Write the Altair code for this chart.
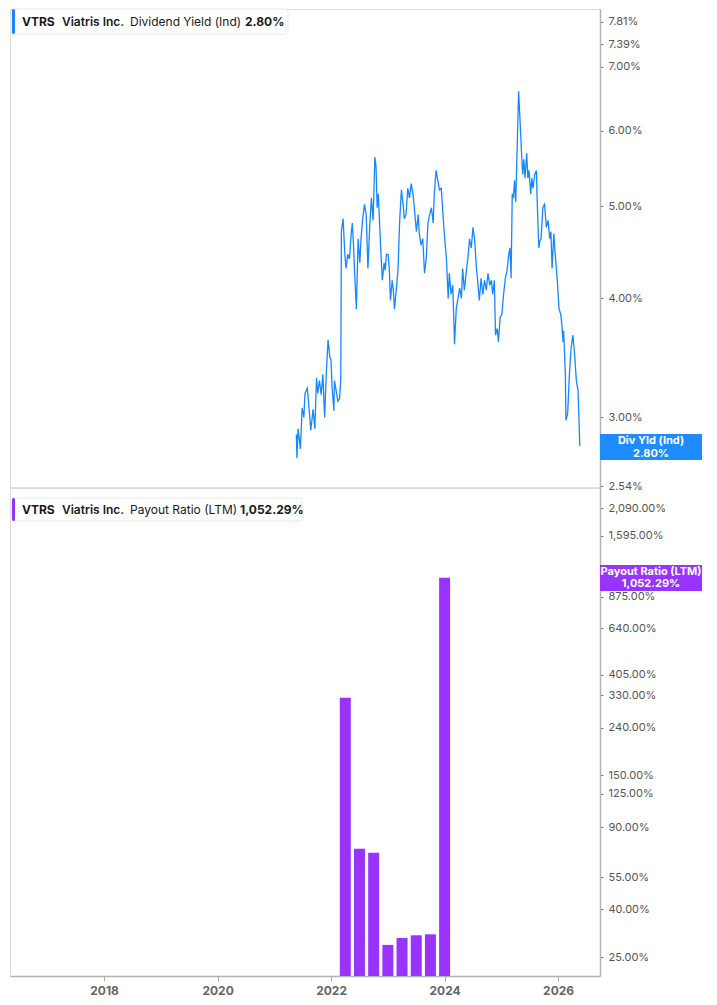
import altair as alt
import pandas as pd

# ---------------- data ----------------
dy_year = [2021.39, 2021.40, 2021.42, 2021.46, 2021.49, 2021.52, 2021.54, 2021.58, 2021.60, 2021.64,
           2021.68, 2021.71, 2021.74, 2021.76, 2021.79, 2021.82, 2021.85, 2021.88, 2021.91, 2021.94,
           2021.97, 2021.99, 2022.01, 2022.04, 2022.05, 2022.08, 2022.11, 2022.14, 2022.16, 2022.17,
           2022.20, 2022.23, 2022.25, 2022.28, 2022.31, 2022.34, 2022.36, 2022.38, 2022.40, 2022.43,
           2022.46, 2022.49, 2022.51, 2022.54, 2022.57, 2022.60, 2022.63, 2022.66, 2022.69, 2022.72,
           2022.75, 2022.77, 2022.79, 2022.81, 2022.84, 2022.86, 2022.88, 2022.91, 2022.93, 2022.95,
           2022.98, 2023.00, 2023.02, 2023.05, 2023.07, 2023.09, 2023.12, 2023.15, 2023.18, 2023.21,
           2023.24, 2023.26, 2023.29, 2023.32, 2023.35, 2023.38, 2023.41, 2023.44, 2023.47, 2023.50,
           2023.52, 2023.55, 2023.58, 2023.61, 2023.64, 2023.67, 2023.70, 2023.73, 2023.76, 2023.78,
           2023.81, 2023.84, 2023.87, 2023.90, 2023.93, 2023.96, 2023.99, 2024.02, 2024.04, 2024.07,
           2024.10, 2024.13, 2024.16, 2024.19, 2024.22, 2024.25, 2024.27, 2024.30, 2024.33, 2024.36,
           2024.39, 2024.42, 2024.45, 2024.48, 2024.51, 2024.53, 2024.56, 2024.59, 2024.62, 2024.65,
           2024.68, 2024.71, 2024.74, 2024.77, 2024.79, 2024.82, 2024.84, 2024.87, 2024.89, 2024.92,
           2024.95, 2024.98, 2025.01, 2025.04, 2025.07, 2025.09, 2025.11, 2025.13, 2025.15, 2025.17,
           2025.19, 2025.21, 2025.23, 2025.24, 2025.26, 2025.29, 2025.31, 2025.33, 2025.35, 2025.38,
           2025.40, 2025.42, 2025.45, 2025.47, 2025.49, 2025.52, 2025.55, 2025.56, 2025.59, 2025.61,
           2025.63, 2025.66, 2025.69, 2025.72, 2025.75, 2025.78, 2025.80, 2025.82, 2025.85, 2025.87,
           2025.91, 2025.94, 2025.97, 2025.99, 2026.01, 2026.02, 2026.05, 2026.06, 2026.09, 2026.12,
           2026.15, 2026.18, 2026.21, 2026.24, 2026.27, 2026.30]
dy_value = [2.88, 2.72, 2.92, 2.78, 3.07, 3.00, 3.18, 3.22, 3.12, 2.91,
            3.06, 2.92, 3.30, 3.18, 3.28, 3.17, 3.33, 3.00, 3.35, 3.62,
            3.47, 3.45, 3.22, 3.05, 3.28, 3.20, 3.12, 3.14, 3.30, 4.70,
            4.85, 4.45, 4.30, 4.45, 4.40, 4.68, 4.80, 4.55, 4.25, 3.90,
            4.62, 4.36, 4.62, 4.85, 5.02, 4.90, 4.30, 4.75, 5.10, 4.83,
            5.63, 5.50, 4.98, 5.15, 4.68, 4.40, 4.18, 4.36, 4.28, 4.45,
            4.45, 4.30, 3.98, 4.18, 4.08, 3.90, 4.08, 4.28, 4.83, 5.20,
            5.02, 4.85, 4.90, 5.22, 5.10, 5.28, 5.15, 4.93, 4.70, 4.90,
            4.68, 4.55, 4.62, 4.25, 4.40, 4.80, 4.90, 4.98, 4.80, 5.15,
            5.45, 5.32, 5.20, 5.22, 4.90, 4.62, 4.40, 4.00, 4.25, 4.04,
            4.13, 3.58, 3.90, 4.00, 4.10, 4.00, 4.30, 4.08, 4.25, 4.40,
            4.62, 4.52, 4.75, 4.60, 4.30, 4.18, 3.98, 4.20, 4.04, 4.18,
            4.08, 4.25, 4.13, 4.18, 4.04, 4.18, 3.66, 3.72, 3.60, 3.82,
            3.85, 4.04, 4.20, 4.28, 4.45, 4.52, 4.20, 5.15, 5.10, 5.32,
            5.05, 5.60, 6.24, 6.60, 6.24, 5.70, 5.40, 5.60, 5.35, 5.68,
            5.35, 5.45, 5.15, 5.35, 5.22, 5.40, 5.45, 5.10, 4.52, 4.60,
            4.62, 4.98, 5.02, 4.75, 4.83, 4.62, 4.70, 4.30, 4.68, 4.48,
            4.18, 3.90, 3.85, 3.75, 3.60, 3.70, 3.33, 2.98, 3.03, 3.33,
            3.55, 3.66, 3.50, 3.28, 3.20, 2.80]

pr_year = [2022.25, 2022.50, 2022.75, 2023.00, 2023.25, 2023.50, 2023.75, 2024.00]
pr_value = [323.0, 72.7, 70.0, 28.2, 30.2, 31.0, 31.3, 1052.29]

top_ticks = [2.54, 3.00, 4.00, 5.00, 6.00, 7.00, 7.39, 7.81]
bottom_ticks = [25, 40, 55, 90, 125, 150, 240, 330, 405, 640, 875, 1595, 2090]
year_ticks = [2018, 2020, 2022, 2024, 2026]

ticker = "VTRS"
company = "Viatris Inc."
top_metric = "Dividend Yield (Ind)"
top_badge = "Div Yld (Ind)"
bottom_metric = "Payout Ratio (LTM)"
bottom_badge = "Payout Ratio (LTM)"

# ---------------- style ----------------
W = 590
H1 = 479
H2 = 488
X_DOMAIN = [2016.43, 2026.65]
TOP_DOMAIN = [2.53, 8.05]
BOT_DOMAIN = [20.75, 2553]
BLUE = "#1588ff"
BADGE_BLUE = "#1e8cff"
PURPLE = "#9933ff"
FONT = "Inter"
BADGE_X1, BADGE_X2 = 590, 692
BADGE_CX = (BADGE_X1 + BADGE_X2) / 2

dy_df = pd.DataFrame({"year": dy_year, "value": dy_value})
pr_df = pd.DataFrame({"year": pr_year, "value": pr_value})

last_dy = f"{dy_value[-1]:,.2f}%"
last_pr = f"{pr_value[-1]:,.2f}%"


def one_row(v=0):
    return pd.DataFrame({"t": [v]})


def txt(label, x, y, size=12, weight="normal", color="#1a1a1a", align="left"):
    return alt.Chart(one_row(label)).mark_text(
        align=align, baseline="middle", fontSize=size, fontWeight=weight,
        color=color, font=FONT
    ).encode(x=alt.value(x), y=alt.value(y), text="t:N")


def box(x1, x2, y1, y2, fill, stroke=None, radius=0):
    kw = dict(fill=fill, cornerRadius=radius)
    if stroke:
        kw["stroke"] = stroke
        kw["strokeWidth"] = 1
    return alt.Chart(one_row()).mark_rect(**kw).encode(
        x=alt.value(x1), x2=alt.value(x2), y=alt.value(y1), y2=alt.value(y2)
    )


def y_axis(values):
    return alt.Axis(
        orient="right", values=values, grid=False, title=None,
        labelExpr="format(datum.value, ',.2f') + '%'",
        tickSize=3, tickColor="#777", tickWidth=1,
        domainColor="#b3b3b3", domainWidth=1.5,
        labelColor="#555", labelFontSize=11, labelFont=FONT, labelPadding=5,
        labelOverlap=False, labelBound=False, labelFlush=False,
    )


# ---------------- top panel ----------------
top_line = alt.Chart(dy_df).mark_line(color=BLUE, strokeWidth=1.3).encode(
    x=alt.X("year:Q", scale=alt.Scale(domain=X_DOMAIN, nice=False, zero=False), axis=None),
    y=alt.Y("value:Q", scale=alt.Scale(type="log", domain=TOP_DOMAIN, nice=False),
            axis=y_axis(top_ticks)),
)

separator = alt.Chart(one_row()).mark_rule(color="#d6d6d6", strokeWidth=1.5).encode(
    x=alt.value(0), x2=alt.value(W), y=alt.value(H1)
)

top = alt.layer(
    top_line,
    separator,
    box(2, 278, 0, 25, "white", "#e8e8e8", 3),
    box(2, 5, 0, 25, BLUE, None, 1.5),
    txt(ticker, 12, 12.5, weight="bold"),
    txt(company, 52, 12.5, weight=600),
    txt(top_metric, 120, 12.5),
    txt(last_dy, 235, 12.5, weight="bold"),
    box(BADGE_X1, BADGE_X2, 425, 451, BADGE_BLUE),
    txt(top_badge, BADGE_CX, 432, size=11, weight="bold", color="white", align="center"),
    txt(last_dy, BADGE_CX, 444.5, size=11, weight="bold", color="white", align="center"),
).properties(width=W, height=H1)

# ---------------- bottom panel ----------------
bars = alt.Chart(pr_df).mark_bar(color=PURPLE, width=11).encode(
    x=alt.X("year:Q", scale=alt.Scale(domain=X_DOMAIN, nice=False, zero=False),
            axis=alt.Axis(values=year_ticks, format="d", grid=False, title=None,
                          tickSize=5, tickColor="#aaa", domainColor="#b3b3b3", domainWidth=1.5,
                          labelColor="#666", labelFontSize=12, labelFontWeight="bold",
                          labelFont=FONT, labelPadding=4)),
    y=alt.Y("value:Q", stack=None,
            scale=alt.Scale(type="log", domain=BOT_DOMAIN, nice=False),
            axis=y_axis(bottom_ticks)),
    y2=alt.datum(BOT_DOMAIN[0]),
)

bottom = alt.layer(
    bars,
    box(2, 292, 10, 33, "white", "#e8e8e8", 3),
    box(2, 5, 10, 33, PURPLE, None, 1.5),
    txt(ticker, 12, 22, weight="bold"),
    txt(company, 52, 22, weight=600),
    txt(bottom_metric, 120, 22),
    txt(last_pr, 230, 22, weight="bold"),
    box(BADGE_X1, BADGE_X2, 77, 103, PURPLE),
    txt(bottom_badge, BADGE_CX, 83.5, size=11, weight="bold", color="white", align="center"),
    txt(last_pr, BADGE_CX, 96, size=11, weight="bold", color="white", align="center"),
).properties(width=W, height=H2)

chart = alt.vconcat(top, bottom, spacing=0, bounds="flush").resolve_scale(
    x="independent", y="independent"
).configure_view(stroke=None).configure(font=FONT, padding=0)

chart.save("out.html", embed_options={"renderer": "svg", "actions": False})
